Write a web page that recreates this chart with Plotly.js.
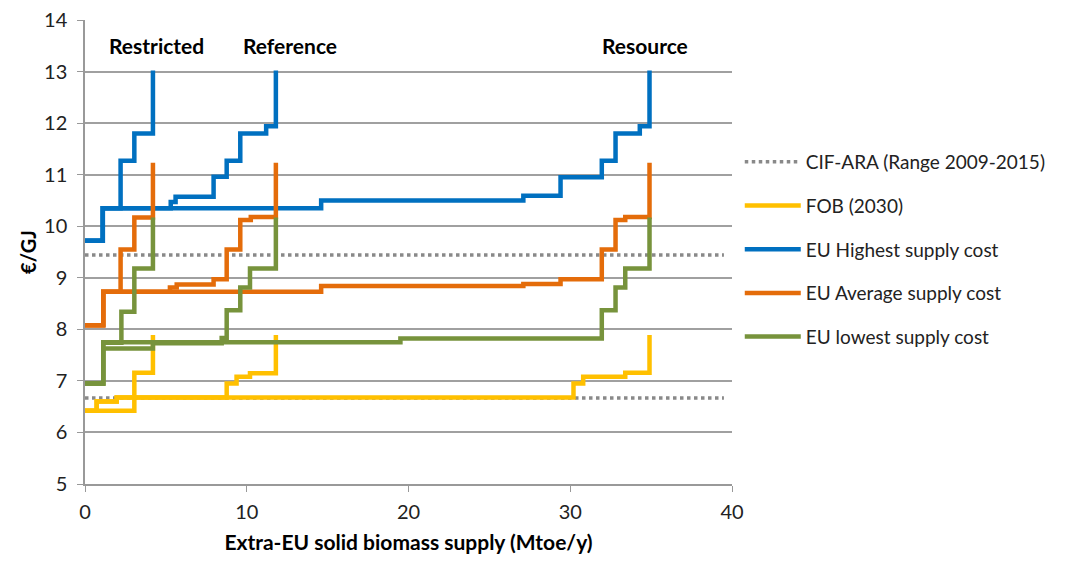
<!DOCTYPE html>
<html>
<head>
<meta charset="utf-8">
<script src="https://cdn.plot.ly/plotly-3.0.1.min.js"></script>
<style>
  html, body { margin: 0; padding: 0; background: #fff; }
  #chart { width: 1069px; height: 564px; }
</style>
</head>
<body>
<div id="chart"></div>
<script>
// CIF-ARA price range (2009-2015)
const cifX = [0, 39.5];
const cifLow = [6.67, 6.67];
const cifHigh = [9.44, 9.44];

// FOB (2030) supply steps
const fobRestrictedX = [0, 3.05, 4.2];
const fobRestrictedY = [6.42, 7.16, 7.89];
const fobReferenceX = [0, 0.72, 1.96, 8.76, 9.37, 10.2, 11.8];
const fobReferenceY = [6.42, 6.6, 6.68, 6.95, 7.08, 7.15, 7.89];
const fobResourceX = [0, 0.72, 1.96, 30.2, 30.8, 33.4, 34.9];
const fobResourceY = [6.42, 6.6, 6.68, 6.95, 7.08, 7.16, 7.89];

// EU highest supply cost
const highRestrictedX = [0, 1.1, 2.2, 3.05, 4.2];
const highRestrictedY = [9.72, 10.35, 11.27, 11.8, 13.02];
const highReferenceX = [0, 1.1, 5.3, 5.6, 7.95, 8.76, 9.6, 11.2, 11.8];
const highReferenceY = [9.72, 10.35, 10.47, 10.57, 10.96, 11.27, 11.8, 11.94, 13.02];
const highResourceX = [0, 1.1, 14.6, 27.1, 29.4, 31.95, 32.8, 34.3, 34.9];
const highResourceY = [9.72, 10.35, 10.5, 10.59, 10.95, 11.27, 11.8, 11.94, 13.02];

// EU average supply cost
const avgRestrictedX = [0, 1.13, 2.2, 3.05, 4.2];
const avgRestrictedY = [8.08, 8.73, 9.55, 10.17, 11.23];
const avgReferenceX = [0, 1.13, 5.25, 5.67, 7.95, 8.76, 9.6, 10.25, 11.8];
const avgReferenceY = [8.08, 8.73, 8.81, 8.87, 8.97, 9.55, 10.12, 10.18, 11.23];
const avgResourceX = [0, 1.13, 14.6, 27.1, 29.4, 31.95, 32.8, 33.4, 34.9];
const avgResourceY = [8.08, 8.73, 8.84, 8.88, 8.97, 9.55, 10.12, 10.18, 11.23];

// EU lowest supply cost
const lowRestrictedX = [0, 1.13, 2.25, 3.05, 4.2];
const lowRestrictedY = [6.95, 7.74, 8.34, 9.18, 10.17];
const lowReferenceX = [0, 1.13, 4.2, 8.45, 8.76, 9.6, 10.2, 11.8];
const lowReferenceY = [6.95, 7.63, 7.73, 7.83, 8.37, 8.81, 9.18, 10.17];
const lowResourceX = [0, 1.13, 19.5, 31.95, 32.8, 33.4, 34.9];
const lowResourceY = [6.95, 7.75, 7.82, 8.37, 8.81, 9.18, 10.17];

// scenario labels
const scenarioNames = ['Restricted', 'Reference', 'Resource'];
const scenarioLabelX = [4.4, 12.7, 34.6];

const FONT = 'Lato, "Open Sans", "Liberation Sans", sans-serif';

const stepTrace = (x, y, name, color, first) => ({
    x: x,
    y: y,
    name: name,
    type: 'scatter',
    mode: 'lines',
    line: { shape: 'hv', color: color, width: 4.5 },
    legendgroup: name,
    showlegend: first,
    hoverinfo: 'x+y+name'
});

const cifTrace = (y, first) => ({
    x: cifX,
    y: y,
    name: 'CIF-ARA (Range 2009-2015)',
    type: 'scatter',
    mode: 'lines',
    line: { color: '#898989', width: 3.5, dash: 'dot' },
    legendgroup: 'cif',
    showlegend: first
});

const series = [
    { name: 'FOB (2030)', color: '#FFC000',
      sets: [[fobRestrictedX, fobRestrictedY], [fobReferenceX, fobReferenceY], [fobResourceX, fobResourceY]] },
    { name: 'EU Highest supply cost', color: '#0070C0',
      sets: [[highRestrictedX, highRestrictedY], [highReferenceX, highReferenceY], [highResourceX, highResourceY]] },
    { name: 'EU Average supply cost', color: '#E46C0A',
      sets: [[avgRestrictedX, avgRestrictedY], [avgReferenceX, avgReferenceY], [avgResourceX, avgResourceY]] },
    { name: 'EU lowest supply cost', color: '#77933C',
      sets: [[lowRestrictedX, lowRestrictedY], [lowReferenceX, lowReferenceY], [lowResourceX, lowResourceY]] }
];

const data = [cifTrace(cifHigh, true), cifTrace(cifLow, false)];
series.forEach(s => {
    s.sets.forEach((xy, i) => {
        data.push(stepTrace(xy[0], xy[1], s.name, s.color, i === 0));
    });
});

const annotations = scenarioNames.map((name, i) => ({
    x: scenarioLabelX[i],
    y: 13.5,
    xref: 'x',
    yref: 'y',
    text: '<b>' + name + '</b>',
    showarrow: false,
    font: { family: FONT, size: 21, color: '#000' }
}));

const layout = {
    width: 1069,
    height: 564,
    margin: { l: 85, r: 337, t: 20, b: 80 },
    paper_bgcolor: '#fff',
    plot_bgcolor: '#fff',
    font: { family: FONT, size: 20, color: '#222' },
    showlegend: true,
    legend: {
        x: 1.012,
        y: 0.735,
        xanchor: 'left',
        yanchor: 'top',
        traceorder: 'grouped',
        tracegroupgap: 16,
        itemwidth: 56,
        font: { family: FONT, size: 19, color: '#222' }
    },
    xaxis: {
        range: [0, 40],
        tickvals: [0, 10, 20, 30, 40],
        showgrid: false,
        zeroline: false,
        showline: true,
        linecolor: '#999',
        linewidth: 1.5,
        ticks: 'outside',
        ticklen: 6,
        tickcolor: '#999',
        ticklabelstandoff: 3,
        automargin: false,
        tickfont: { family: FONT, size: 20, color: '#222' },
        title: {
            text: '<b>Extra-EU solid biomass supply (Mtoe/y)</b>',
            font: { family: FONT, size: 21, color: '#000' },
            standoff: 14
        }
    },
    yaxis: {
        range: [5, 14],
        dtick: 1,
        showgrid: true,
        gridcolor: '#a0a0a0',
        gridwidth: 1.5,
        zeroline: false,
        showline: true,
        linecolor: '#999',
        linewidth: 1.5,
        ticks: 'outside',
        ticklen: 6,
        tickcolor: '#999',
        ticklabelstandoff: 6,
        automargin: false,
        tickfont: { family: FONT, size: 20, color: '#222' },
        title: {
            text: '<b>€/GJ</b>',
            font: { family: FONT, size: 20, color: '#000' },
            standoff: 2
        }
    },
    annotations: annotations
};

Plotly.newPlot('chart', data, layout, { displayModeBar: false, responsive: false });
</script>
</body>
</html>
